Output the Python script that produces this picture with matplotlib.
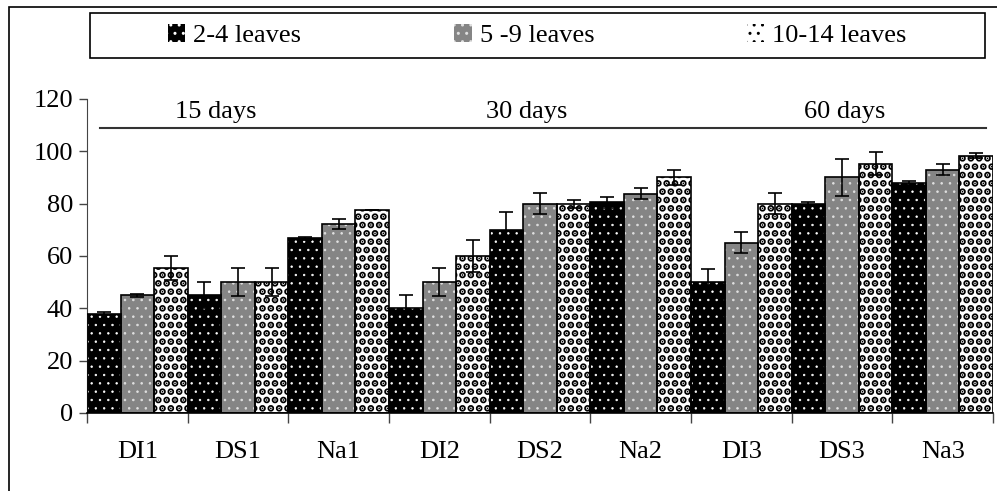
import numpy as np
import matplotlib.pyplot as plt
from matplotlib.patches import Rectangle, Patch
from matplotlib.lines import Line2D

plt.rcParams['font.family'] = 'Liberation Serif'
plt.rcParams['font.size'] = 19

cats = ['DI1', 'DS1', 'Na1', 'DI2', 'DS2', 'Na2', 'DI3', 'DS3', 'Na3']
series = ['2-4 leaves', '5 -9 leaves', '10-14 leaves']
v_24 = [38, 45, 66.7, 40, 70, 80.5, 50, 80, 88]
v_59 = [45, 50, 72.3, 50, 80, 83.8, 65, 90, 93]
v_1014 = [55.5, 50, 77.5, 60, 80, 90, 80, 95.3, 98.4]
e_24 = [0.5, 5, 0.5, 5, 7, 2, 5, 0.5, 0.5]
e_59 = [0.5, 5.3, 2, 5.3, 4, 2, 4, 7, 2]
e_1014 = [4.5, 5.3, 0, 6, 1.5, 2.8, 4, 4.5, 1]
periods = ['15 days', '30 days', '60 days']

vals = [v_24, v_59, v_1014]
errs = [e_24, e_59, e_1014]
faces = ['black', '#858585', 'white']
hcols = ['white', '#e0e0e0', 'black']
hatches = ['..', '..', '..']
hlw = [0.5, 0.6, 3.5]
leg_lw = [0.4, 0.4, 2.5]

fig = plt.figure(figsize=(9.97, 4.91), dpi=100)
ax = fig.add_axes([0.0873, 0.1589, 0.9087, 0.6395])

x = np.arange(len(cats))
w = 1 / 3
for k in range(3):
    pos = x + (k - 1) * w
    with plt.rc_context({'hatch.linewidth': hlw[k]}):
        ax.bar(pos, vals[k], w, color=faces[k], edgecolor=hcols[k],
               hatch=hatches[k], linewidth=0, zorder=2)
    ax.bar(pos, vals[k], w, fill=False, edgecolor='black', linewidth=1.2, zorder=3)
    ax.errorbar(pos, vals[k], yerr=errs[k], fmt='none', ecolor='black',
                elinewidth=1.2, capsize=5, capthick=1.2, zorder=4)

ax.set_xlim(-0.5, 8.5)
ax.set_ylim(0, 120)
ax.set_yticks(range(0, 121, 20))
ax.set_xticks(x)
ax.set_xticklabels(cats)
ax.set_xticks(np.arange(-0.5, 9, 1), minor=True)
ax.tick_params(axis='x', which='major', length=0, pad=20)
ax.tick_params(axis='x', which='minor', length=7, width=1, color='#444444')
ax.tick_params(axis='y', length=6, width=1, color='#444444', pad=4)
for s in ['top', 'right']:
    ax.spines[s].set_visible(False)
ax.spines['left'].set_color('#444444')
ax.spines['bottom'].set_color('black')
ax.spines['bottom'].set_linewidth(1.2)

# period line and labels
ax.add_line(Line2D([-0.37, 8.43], [109, 109], color='#333333', linewidth=1.5, clip_on=False))
for px, t in zip([0.78, 3.87, 7.03], periods):
    ax.text(px, 115, t, ha='center', va='center')

# outer frame
fig.patches.append(Rectangle((9 / 997, -0.05), 1.1, 1 - 7 / 491 + 0.05, transform=fig.transFigure,
                             fill=False, edgecolor='black', linewidth=1.2))

# legend box
fig.patches.append(Rectangle((90 / 997, 1 - 58 / 491), 895 / 997, 45 / 491, transform=fig.transFigure,
                             fill=False, edgecolor='black', linewidth=1.2))
handles = []
for k in range(3):
    with plt.rc_context({'hatch.linewidth': leg_lw[k]}):
        handles.append(Patch(facecolor=faces[k], edgecolor=hcols[k], hatch=hatches[k], linewidth=0))
fig.legend(handles, series, loc='center', bbox_to_anchor=((90 + 895 / 2) / 997, 1 - 35.5 / 491),
           ncol=3, frameon=False, columnspacing=5.8, handlelength=0.65, handleheight=0.65,
           handletextpad=0.3, borderpad=0)

fig.savefig('out.png', dpi=100)
